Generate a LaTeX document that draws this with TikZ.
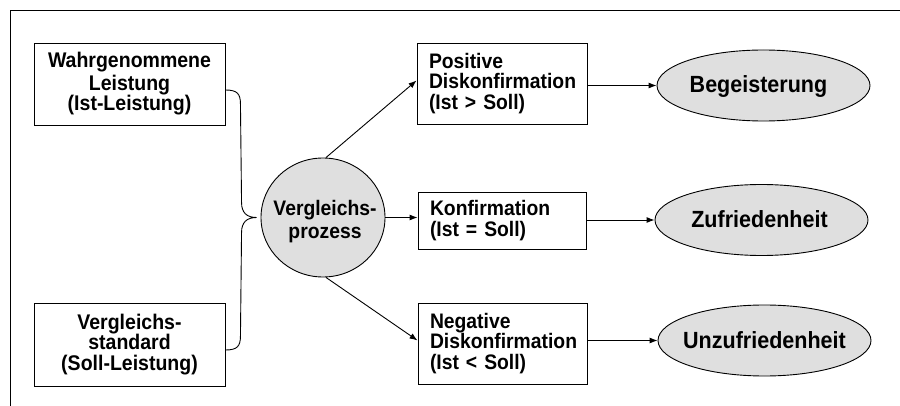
\documentclass[tikz,border=0pt]{standalone}
\usepackage{fontspec}
\setmainfont[FakeStretch=0.92]{Liberation Sans}
\usetikzlibrary{shapes.geometric,arrows.meta,calc}
\definecolor{shade}{RGB}{223,223,223}
\begin{document}
\begin{tikzpicture}[x=1pt,y=-1pt,
  line width=0.9pt,
  every node/.style={font=\bfseries},
  inbox/.style={draw, rectangle, inner sep=0pt, align=center,
    font=\fontsize{21.2}{20.5}\selectfont\bfseries},
  outbox/.style={draw, rectangle, inner sep=0pt, align=left,
    font=\fontsize{21}{20.5}\selectfont\bfseries},
  result/.style={draw, ellipse, fill=shade, inner sep=0pt,
    minimum width=213pt, minimum height=71pt},
  resulttext/.style={inner sep=0pt, anchor=base,
    font=\fontsize{23.4}{23}\selectfont\bfseries},
  core/.style={draw, ellipse, fill=shade, inner sep=0pt,
    minimum width=124pt, minimum height=119pt},
  coretext/.style={inner sep=0pt, align=center,
    font=\fontsize{21}{23.3}\selectfont\bfseries},
  flow/.style={-{Latex[length=8pt,width=6pt]}}]
\useasboundingbox (0,0) rectangle (900,406);

% open frame: top and left edges
\coordinate (fTL) at (10,10);
\coordinate (fTR) at (900,10);
\coordinate (fBL) at (10,406);
\draw (fTR) -- (fTL) -- (fBL);

% inputs
\node[inbox, minimum width=191pt, minimum height=82pt] (ist) at (129.5,84)
  {\strut Wahrgenommene\\Leistung\\(Ist-Leistung)};
\node[inbox, minimum width=191pt, minimum height=83pt] (soll) at (129.5,344.5)
  {Vergleichs-\\standard\\(Soll-Leistung)};

% comparison
\node[core] (cmp) at (323,217.5) {};
\node[coretext] (cmpT) at ([xshift=2pt,yshift=-4pt]cmp.center) {Vergleichs-\\prozess};

% outcomes of the comparison
\node[outbox, minimum width=170pt, minimum height=81pt, text width=146pt] (pos) at (502,83.5)
  {Positive\\Diskonfirmation\\(Ist > Soll)};
\node[outbox, minimum width=168pt, minimum height=57pt, text width=144pt] (kon) at (502,220.5)
  {Konfirmation\\(Ist = Soll)};
\node[outbox, minimum width=169pt, minimum height=81pt, text width=145pt] (neg) at (502.5,343.5)
  {Negative\\Diskonfirmation\\(Ist < Soll)};

% resulting states
\node[result] (beg) at (763.5,85.5) {};
\node[result] (zuf) at (761.5,220) {};
\node[result] (unz) at (764.5,340.5) {};
\node[resulttext] (begT) at ([xshift=-5pt,yshift=-7.5pt]beg.center) {Begeisterung};
\node[resulttext] (zufT) at ([xshift=-2pt,yshift=-8pt]zuf.center) {Zufriedenheit};
\node[resulttext] (unzT) at ([yshift=-8pt]unz.center) {Unzufriedenheit};

% curly brace joining both inputs into the comparison
\coordinate (tip) at ([xshift=-4pt]cmp.west);
\coordinate (bTop) at ([yshift=-6pt]ist.east);
\coordinate (bBot) at ([yshift=-5.5pt]soll.east);
\draw (bTop) .. controls +(12,0) and +(0,-10) .. ($(bTop)+(15,14)$)
  -- ($(tip)+(-15,-15)$) .. controls +(0,10) and +(-10,0) .. (tip)
  .. controls +(-10,0) and +(0,-10) .. ($(tip)+(-15,15)$)
  -- ($(bBot)+(15,-14)$) .. controls +(0,10) and +(12,0) .. (bBot);

% arrows out of the comparison
\draw[flow] ([xshift=3pt]cmp.north) -- ([yshift=3pt]pos.west);
\draw[flow] (cmp.east) -- (cmp.east -| kon.west);
\draw[flow] ([xshift=3pt]cmp.south) -- ([yshift=3pt]neg.west);

% arrows to the resulting states
\draw[flow] (pos.east |- beg.west) -- (beg.west);
\draw[flow] (kon.east |- zuf.west) -- (zuf.west);
\draw[flow] (neg.east |- unz.west) -- (unz.west);
\end{tikzpicture}
\end{document}
